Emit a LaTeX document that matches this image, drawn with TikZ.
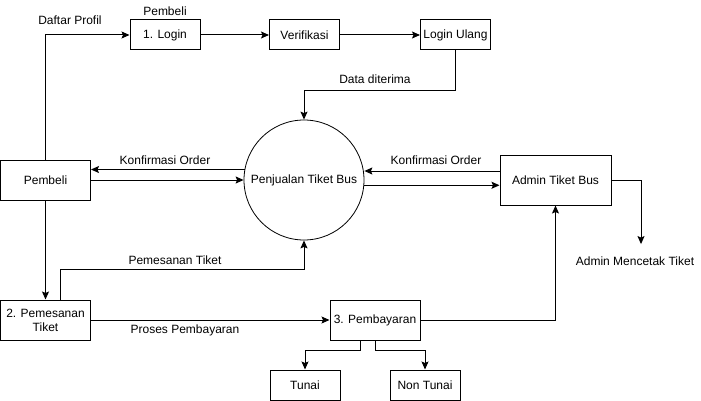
\documentclass[tikz,border=0pt]{standalone}
\usepackage{fontspec}
\setmainfont{Liberation Sans}
\usepackage{tikz}
\usetikzlibrary{arrows.meta}

\begin{document}
\begin{tikzpicture}[x=1pt, y=-1pt,
    font=\fontsize{12}{14}\selectfont,
    >={Stealth[length=8pt,width=7pt,inset=1.5pt]},
    kotak/.style={draw, rectangle, line width=1pt, inner sep=0pt, align=center},
    garis/.style={->, line width=1pt}]
\useasboundingbox (0,0) rectangle (701,401);

\node[kotak, minimum width=90pt, minimum height=40pt] (pb) at (45.5,180) {Pembeli};
\node[kotak, minimum width=70pt, minimum height=30pt] (lg) at (165,35) {1. Login};
\node[kotak, minimum width=70pt, minimum height=30pt] (vf) at (304.5,35) {Verifikasi};
\node[kotak, minimum width=70pt, minimum height=30pt] (ul) at (455.5,35) {Login Ulang};

\node[draw, circle, line width=0.8pt, minimum size=120pt, inner sep=0pt] (jual) at (304,180) {Penjualan Tiket Bus};
\node[kotak, minimum width=111pt, minimum height=50pt] (ad) at (555.5,180) {Admin Tiket Bus};

\node[kotak, minimum width=90pt, minimum height=40pt] (ps) at (45.5,320) {2. Pemesanan\\Tiket};
\node[kotak, minimum width=90pt, minimum height=40pt] (by) at (375,320) {3. Pembayaran};
\node[kotak, minimum width=70pt, minimum height=30pt] (tn) at (305,385) {Tunai};
\node[kotak, minimum width=70pt, minimum height=30pt] (nt) at (425,385) {Non Tunai};

\node (l1) at (70,20) {Daftar Profil};
\node (l2) at (165,11) {Pembeli};
\node (l3) at (375,79) {Data diterima};
\node (l4) at (165,160) {Konfirmasi Order};
\node (l5) at (436,160) {Konfirmasi Order};
\node (l6) at (175,260) {Pemesanan Tiket};
\node (l7) at (185,330) {Proses Pembayaran};
\node (ct) at (635,261) {Admin Mencetak Tiket};

\draw[garis] (pb.north) |- (lg.west);
\draw[garis] (lg) -- (vf);
\draw[garis] (vf) -- (ul);
\draw[garis] (ul.south) -- ++(0,40) -| (jual.north);

\draw[garis] (jual.170) -- (jual.170 -| pb.east);
\draw[garis] (pb.east) -- (jual.west);
\draw[garis] ([yshift=9pt]ad.west) -- ([yshift=9pt]ad.west -| jual.east);
\draw[garis] (jual.355) -- (jual.355 -| ad.west);
\draw[garis] (ad.east) -| ([xshift=6pt,yshift=9pt]ct.north);

\draw[garis] (pb) -- (ps);
\draw[garis] ([xshift=15pt]ps.north) -- ++(0,-30) -| (jual.south);
\draw[garis] (ps) -- (by);
\draw[garis] (by.east) -| (ad.south);
\draw[garis] ([xshift=-15pt]by.south) -- ++(0,10) -| (tn.north);
\draw[garis] (by.south) -- ++(0,10) -| (nt.north);
\end{tikzpicture}
\end{document}
